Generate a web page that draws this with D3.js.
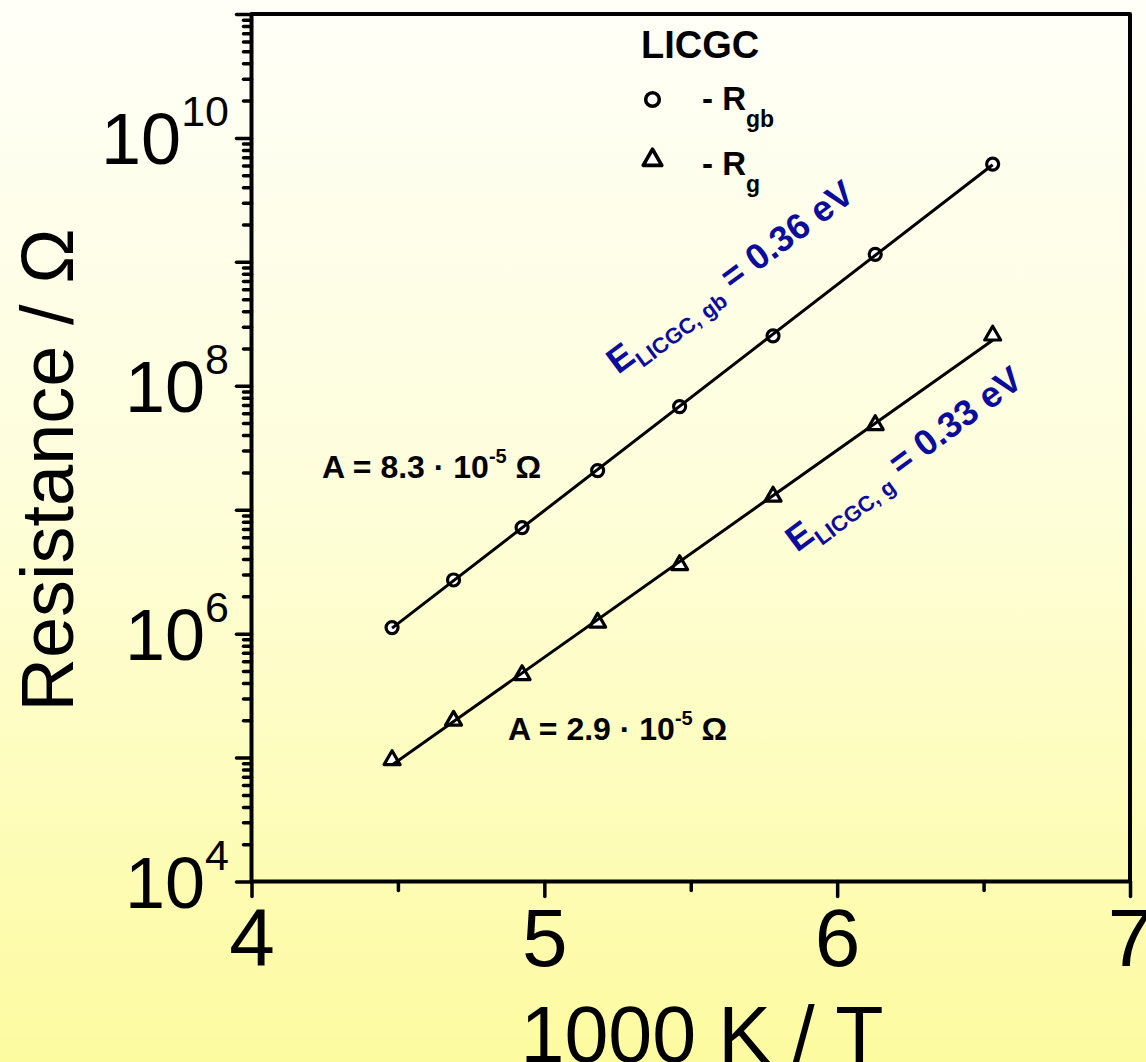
<!DOCTYPE html>
<html>
<head>
<meta charset="utf-8">
<script src="https://cdn.jsdelivr.net/npm/d3@7"></script>
<style>
  html, body { margin: 0; padding: 0; overflow: hidden; background: #fffff8; }
  text { font-family: "Liberation Sans", Arial, Helvetica, sans-serif; }
</style>
</head>
<body>
<svg id="chart" width="1146" height="1062"></svg>
<script>
// Arrhenius data: 1000 K / T versus resistance (Ω)
const inverseT = [4.480, 4.690, 4.924, 5.182, 5.462, 5.781, 6.130, 6.531];
const rGrainBoundary = [1.12e6, 2.71e6, 7.17e6, 2.07e7, 6.79e7, 2.53e8, 1.15e9, 6.15e9];
const rGrain = [9.57e4, 1.99e5, 4.64e5, 1.23e6, 3.58e6, 1.28e7, 4.83e7, 2.55e8];

// Axis settings
const xDomain = [4, 7];
const yDomain = [1e4, 1e11];
const xMajorTicks = [4, 5, 6, 7];
const xMinorTicks = [4.5, 5.5, 6.5];
const yDecades = [4, 5, 6, 7, 8, 9, 10, 11];
const yLabelExponents = [4, 6, 8, 10];

// Text content
const legendTitle = "LICGC";
const seriesNames = [{ main: "R", sub: "gb" }, { main: "R", sub: "g" }];
const activationLabels = [
  { sub: "LICGC, gb", value: " = 0.36 eV" },
  { sub: "LICGC, g", value: " = 0.33 eV" }
];
const prefactorLabels = [
  { mant: "A = 8.3 · 10", exp: "-5" },
  { mant: "A = 2.9 · 10", exp: "-5" }
];
const xTitle = "1000 K / T";
const yTitle = "Resistance / Ω";

const svg = d3.select("#chart");
const W = 1146, H = 1062;
const plot = { left: 251.5, right: 1130, top: 14, bottom: 881.5 };
const blue = "#0c0c9c";

// background gradient
const defs = svg.append("defs");
const grad = defs.append("linearGradient").attr("id", "bg")
  .attr("x1", 0).attr("y1", 0).attr("x2", 0).attr("y2", 1);
grad.append("stop").attr("offset", 0).attr("stop-color", "#fffff8");
grad.append("stop").attr("offset", 0.45).attr("stop-color", "#fefedc");
grad.append("stop").attr("offset", 1).attr("stop-color", "#fdfba0");
svg.append("rect").attr("width", W).attr("height", H).attr("fill", "url(#bg)");

const x = d3.scaleLinear().domain(xDomain).range([plot.left, plot.right]);
const y = d3.scaleLog().domain(yDomain).range([plot.bottom, plot.top]);

// ---- Y axis: decade and sub-decade ticks
const yTickVals = [];
yDecades.forEach(e => {
  for (let m = 1; m <= 9; m++) {
    const v = m * Math.pow(10, e);
    if (v <= yDomain[1] * 1.0001) yTickVals.push(v);
  }
});
const isDecade = v => Math.abs(Math.log10(v) - Math.round(Math.log10(v))) < 1e-9;

const yAxis = svg.append("g").attr("transform", `translate(${plot.left},0)`)
  .call(d3.axisLeft(y).tickValues(yTickVals).tickFormat("").tickSizeOuter(0));
yAxis.select(".domain").remove();
yAxis.selectAll(".tick line")
  .attr("x2", d => isDecade(d) ? -15 : -8)
  .attr("stroke", "#000").attr("stroke-width", 3.5).attr("stroke-linecap", "round");

// y tick labels 10^n
yLabelExponents.forEach(e => {
  const t = svg.append("text")
    .attr("x", 229).attr("y", y(Math.pow(10, e)) + 26)
    .attr("text-anchor", "end").attr("font-size", 72).attr("fill", "#000");
  t.append("tspan").text("10");
  t.append("tspan").attr("font-size", 43).attr("dy", -38).text(String(e));
});

// ---- X axis
const xAxis = svg.append("g").attr("transform", `translate(0,${plot.bottom})`)
  .call(d3.axisBottom(x).tickValues(xMajorTicks).tickSize(15).tickSizeOuter(0)
    .tickFormat(d3.format("d")));
xAxis.select(".domain").remove();
xAxis.selectAll(".tick line").attr("stroke", "#000").attr("stroke-width", 3.5)
  .attr("stroke-linecap", "round");
xAxis.selectAll(".tick text").attr("y", 84).attr("dy", 0)
  .attr("font-size", 82).attr("fill", "#000")
  .attr("font-family", "'Liberation Sans', Arial, sans-serif");

const xMinor = svg.append("g").attr("transform", `translate(0,${plot.bottom})`)
  .call(d3.axisBottom(x).tickValues(xMinorTicks).tickSize(9).tickFormat(""));
xMinor.select(".domain").remove();
xMinor.selectAll(".tick line").attr("stroke", "#000").attr("stroke-width", 3.5)
  .attr("stroke-linecap", "round");

// frame
svg.append("path")
  .attr("d", `M${plot.left},${plot.bottom}H${plot.right}V${plot.top}H${plot.left}Z`)
  .attr("fill", "none").attr("stroke", "#000").attr("stroke-width", 4)
  .attr("stroke-linejoin", "round");

// ---- axis titles
svg.append("text").attr("x", 702).attr("y", 1062).attr("text-anchor", "middle")
  .attr("font-size", 79).attr("fill", "#000").text(xTitle);
svg.append("text").attr("transform", "translate(73,470) rotate(-90)")
  .attr("text-anchor", "middle").attr("font-size", 74).attr("fill", "#000").text(yTitle);

// ---- data
function fit(xs, ys) {
  const ly = ys.map(v => Math.log10(v));
  const mx = d3.mean(xs), my = d3.mean(ly);
  const b = d3.sum(xs, (v, i) => (v - mx) * (ly[i] - my)) / d3.sum(xs, v => (v - mx) * (v - mx));
  const a = my - b * mx;
  return xv => Math.pow(10, a + b * xv);
}

const series = [
  { values: rGrainBoundary, symbol: "circle" },
  { values: rGrain, symbol: "triangle" }
];
const triPath = d3.symbol().type(d3.symbolTriangle).size(110)();

series.forEach(s => {
  const g = svg.append("g");
  const pts = inverseT.map((xv, i) => [xv, s.values[i]]);
  if (s.symbol === "circle") {
    g.selectAll("circle").data(pts).join("circle")
      .attr("cx", d => x(d[0])).attr("cy", d => y(d[1])).attr("r", 6)
      .attr("fill", "#fff").attr("stroke", "#000").attr("stroke-width", 3.2);
  } else {
    g.selectAll("path").data(pts).join("path")
      .attr("d", triPath)
      .attr("transform", d => `translate(${x(d[0])},${y(d[1])})`)
      .attr("fill", "#fff").attr("stroke", "#000").attr("stroke-width", 3.2)
      .attr("stroke-linejoin", "round");
  }
  const f = fit(inverseT, s.values);
  const ends = [inverseT[0], inverseT[inverseT.length - 1]];
  g.append("path")
    .attr("d", d3.line().x(d => x(d)).y(d => y(f(d)))(ends))
    .attr("fill", "none").attr("stroke", "#000").attr("stroke-width", 3);
});

// ---- legend
svg.append("text").attr("x", 641).attr("y", 58).attr("font-size", 38)
  .attr("font-weight", "bold").attr("fill", "#000").text(legendTitle);
const legendRows = [{ cy: 99.5, base: 110 }, { cy: 160, base: 175 }];
const legendTri = d3.symbol().type(d3.symbolTriangle).size(150)();
legendRows.forEach((r, i) => {
  if (i === 0) {
    svg.append("circle").attr("cx", 652.5).attr("cy", r.cy).attr("r", 6.8)
      .attr("fill", "#fff").attr("stroke", "#000").attr("stroke-width", 3.6);
  } else {
    svg.append("path").attr("d", legendTri).attr("transform", `translate(652.5,${r.cy})`)
      .attr("fill", "#fff").attr("stroke", "#000").attr("stroke-width", 3.6)
      .attr("stroke-linejoin", "round");
  }
  const t = svg.append("text").attr("x", 702).attr("y", r.base)
    .attr("font-size", 33).attr("font-weight", "bold").attr("fill", "#000");
  t.append("tspan").text("- " + seriesNames[i].main);
  t.append("tspan").attr("font-size", 23).attr("dy", 17).text(seriesNames[i].sub);
});

// ---- activation energy labels
const actPos = [[618, 375], [797, 553]];
activationLabels.forEach((lab, i) => {
  const t = svg.append("text")
    .attr("transform", `translate(${actPos[i][0]},${actPos[i][1]}) rotate(-36.5)`)
    .attr("font-size", 36).attr("font-weight", "bold").attr("fill", blue);
  t.append("tspan").text("E");
  t.append("tspan").attr("font-size", 22).attr("dy", 9).text(lab.sub);
  t.append("tspan").attr("dy", -9).text(lab.value);
});

// ---- pre-exponential factor labels
const prePos = [[322, 478], [508, 740]];
prefactorLabels.forEach((lab, i) => {
  const t = svg.append("text").attr("x", prePos[i][0]).attr("y", prePos[i][1])
    .attr("font-size", 32).attr("font-weight", "bold").attr("fill", "#000");
  t.append("tspan").text(lab.mant);
  t.append("tspan").attr("font-size", 20).attr("dy", -15).text(lab.exp);
  t.append("tspan").attr("dy", 15).text(" Ω");
});
</script>
</body>
</html>
